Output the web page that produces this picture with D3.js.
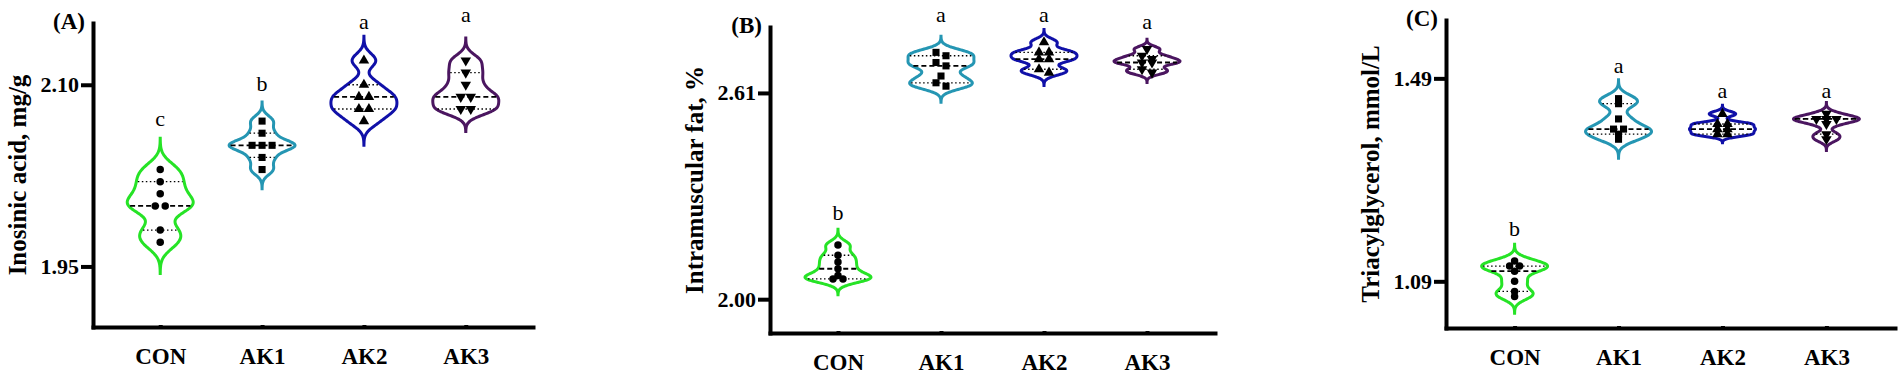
<!DOCTYPE html>
<html>
<head>
<meta charset="utf-8">
<script src="https://d3js.org/d3.v7.min.js"></script>
<style>
  body { margin: 0; background: #fff; }
  svg { display: block; font-family: "Liberation Serif", "Times New Roman", serif; }
  .axis path, .axis line { stroke: #000; stroke-width: 4; stroke-linecap: square; }
  .axis text { font-family: "Liberation Serif", "Times New Roman", serif; fill: #000; }
  .y.axis text { font-weight: bold; font-size: 22px; }
  .x.axis text { font-weight: bold; font-size: 23px; }
  .ylab { font-weight: bold; font-size: 25px; }
  .ptitle { font-weight: bold; font-size: 23px; }
  .sig { font-size: 22px; }
</style>
</head>
<body>
<svg id="chart" width="1902" height="378"></svg>
<script>
const groups = ["CON", "AK1", "AK2", "AK3"];
const colors = ["#26e326", "#2596b3", "#1010a8", "#4b1660"];

// (A) inosinic acid, mg/g
const inoCON = [2.03, 2.02, 2.01, 2.00, 2.00, 1.98, 1.97];
const inoAK1 = [2.07, 2.06, 2.05, 2.05, 2.05, 2.04, 2.03];
const inoAK2 = [2.12, 2.10, 2.09, 2.09, 2.08, 2.08, 2.07];
const inoAK3 = [2.12, 2.11, 2.10, 2.09, 2.09, 2.08, 2.08];
const inoLetters = ["c", "b", "a", "a"];
const inoLetterAt = [2.066, 2.095, 2.146, 2.152];
const inoTicks = [1.95, 2.10];

// (B) intramuscular fat, %
const imfCON = [2.16, 2.13, 2.11, 2.09, 2.07, 2.06, 2.06];
const imfAK1 = [2.73, 2.72, 2.70, 2.69, 2.66, 2.64, 2.63];
const imfAK2 = [2.76, 2.73, 2.73, 2.71, 2.71, 2.68, 2.67];
const imfAK3 = [2.74, 2.72, 2.71, 2.70, 2.70, 2.68, 2.67];
const imfLetters = ["b", "a", "a", "a"];
const imfLetterAt = [2.234, 2.82, 2.82, 2.80];
const imfTicks = [2.00, 2.61];

// (C) triacylglycerol, mmol/L
const tgCON = [1.13, 1.12, 1.12, 1.11, 1.09, 1.07, 1.06];
const tgAK1 = [1.45, 1.44, 1.41, 1.39, 1.39, 1.38, 1.37];
const tgAK2 = [1.42, 1.40, 1.40, 1.39, 1.39, 1.38, 1.38];
const tgAK3 = [1.42, 1.41, 1.41, 1.41, 1.40, 1.38, 1.37];
const tgLetters = ["b", "a", "a", "a"];
const tgLetterAt = [1.180, 1.501, 1.451, 1.451];
const tgTicks = [1.09, 1.49];

const panels = [
  { title: "(A)", label: "Inosinic acid, mg/g", series: [inoCON, inoAK1, inoAK2, inoAK3],
    letters: inoLetters, letterAt: inoLetterAt, ticks: inoTicks, domain: [1.90, 2.151],
    x0: 93, x1: 533, top: 23, bottom: 327 },
  { title: "(B)", label: "Intramuscular fat, %", series: [imfCON, imfAK1, imfAK2, imfAK3],
    letters: imfLetters, letterAt: imfLetterAt, ticks: imfTicks, domain: [1.90, 2.805],
    x0: 770, x1: 1215, top: 27, bottom: 333 },
  { title: "(C)", label: "Triacylglycerol, mmol/L", series: [tgCON, tgAK1, tgAK2, tgAK3],
    letters: tgLetters, letterAt: tgLetterAt, ticks: tgTicks, domain: [0.998, 1.605],
    x0: 1446, x1: 1895, top: 20, bottom: 328 }
];

const svg = d3.select("#chart");
svg.append("rect").attr("width", 1902).attr("height", 378).attr("fill", "#fff");

const halfW = 33;      // max half width of each violin
const dodge = 10;      // horizontal spacing of overlapping points

// quartile as Prism computes it: position p*(n+1)
function quart(sorted, p) {
  const n = sorted.length, pos = p * (n + 1);
  const i = Math.floor(pos), f = pos - i;
  if (i < 1) return sorted[0];
  if (i >= n) return sorted[n - 1];
  return sorted[i - 1] + f * (sorted[i] - sorted[i - 1]);
}

function offsets(ys) {
  const idx = d3.range(ys.length).sort((a, b) => ys[a] - ys[b]);
  const rows = [];
  idx.forEach(i => {
    const last = rows[rows.length - 1];
    if (last && ys[i] - ys[last[last.length - 1]] < 2.5) last.push(i);
    else rows.push([i]);
  });
  const off = new Array(ys.length).fill(0);
  rows.forEach(r => r.forEach((i, k) => off[i] = (k - (r.length - 1) / 2) * dodge));
  for (let k = 0; k < rows.length - 1; k++) {
    const a = rows[k], b = rows[k + 1];
    if (a.length === 1 && b.length === 1 && ys[b[0]] - ys[a[0]] < 4.9) {
      off[a[0]] = -dodge / 2;
      off[b[0]] = dodge / 2;
      k++;
    }
  }
  return off;
}

function symbolFor(g) {
  if (g === 0) return d3.symbol().type(d3.symbolCircle).size(44)();
  if (g === 1) return d3.symbol().type(d3.symbolSquare).size(50)();
  return d3.symbol().type(d3.symbolTriangle).size(48)();
}

panels.forEach(p => {
  const g = svg.append("g");
  const x = d3.scalePoint().domain(groups).range([p.x0, p.x1]).padding(0.66);
  const y = d3.scaleLinear().domain(p.domain).range([p.bottom, p.top]);

  p.series.forEach((vals, gi) => {
    const cx = x(groups[gi]);
    const sd = d3.deviation(vals), h = 0.35 * sd, ext = 3.5 * h;
    const lo = d3.min(vals) - ext, hi = d3.max(vals) + ext;
    const dens = v => d3.sum(vals, d => Math.exp(-0.5 * ((v - d) / h) ** 2));
    const grid = d3.range(0, 161).map(i => lo + (hi - lo) * i / 160);
    const pts = grid.map(v => [v, dens(v)]);
    const maxD = d3.max(pts, d => d[1]);
    const w = v => halfW * dens(v) / maxD;

    const area = d3.area()
      .y(d => y(d[0]))
      .x0(d => cx - halfW * d[1] / maxD)
      .x1(d => cx + halfW * d[1] / maxD)
      .curve(d3.curveBasis);
    g.append("path").attr("d", area(pts))
      .attr("fill", "none").attr("stroke", colors[gi]).attr("stroke-width", 3);

    const sorted = vals.slice().sort(d3.ascending);
    const lines = [
      { v: quart(sorted, 0.25), dash: "1.5,2.5", sw: 1.3 },
      { v: quart(sorted, 0.75), dash: "1.5,2.5", sw: 1.3 },
      { v: quart(sorted, 0.5), dash: "5,3", sw: 1.8 }
    ];
    lines.forEach(l => {
      const hw = w(l.v) - 1.5;
      g.append("line")
        .attr("x1", cx - hw).attr("x2", cx + hw)
        .attr("y1", y(l.v)).attr("y2", y(l.v))
        .attr("stroke", "#000").attr("stroke-width", l.sw)
        .attr("stroke-dasharray", l.dash);
    });

    const ys = vals.map(v => y(v));
    const off = offsets(ys);
    g.selectAll(null).data(vals).join("path")
      .attr("d", symbolFor(gi))
      .attr("fill", "#000")
      .attr("transform", (d, i) => `translate(${cx + off[i]},${ys[i]})` + (gi === 3 ? " rotate(180)" : ""));

    g.append("text").attr("class", "sig")
      .attr("x", cx).attr("y", y(p.letterAt[gi]))
      .attr("text-anchor", "middle")
      .text(p.letters[gi]);
  });

  g.append("g").attr("class", "y axis")
    .attr("transform", `translate(${p.x0},0)`)
    .call(d3.axisLeft(y).tickValues(p.ticks).tickFormat(d3.format(".2f"))
      .tickSize(10).tickSizeOuter(0).tickPadding(4))
    .attr("font-family", null).attr("font-size", null);

  g.append("g").attr("class", "x axis")
    .attr("transform", `translate(0,${p.bottom})`)
    .call(d3.axisBottom(x).tickSize(0).tickSizeOuter(0).tickPadding(21))
    .attr("font-family", null).attr("font-size", null);

  g.append("text").attr("class", "ylab")
    .attr("transform", `translate(${p.x0 - 76},${(p.top + p.bottom) / 2}) rotate(-90)`)
    .attr("text-anchor", "middle").attr("dominant-baseline", "central")
    .text(p.label);

  g.append("text").attr("class", "ptitle")
    .attr("x", p.x0 - 8).attr("y", p.top - 2)
    .attr("text-anchor", "end").attr("dominant-baseline", "central")
    .text(p.title);
});
</script>
</body>
</html>
